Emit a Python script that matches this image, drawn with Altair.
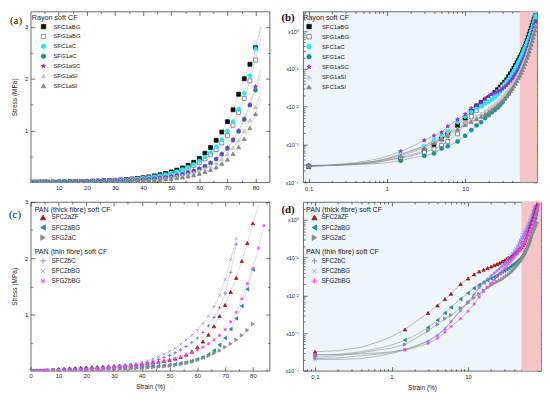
import altair as alt
import pandas as pd

# ---------------- data (strain %, stress MPa) ----------------
STRAIN = [0.1, 0.2, 0.4, 0.7, 1, 1.5, 2, 3, 4, 5, 6, 8,
          10, 12, 14, 16, 18, 20, 22, 24, 26, 28, 30, 32, 34, 36, 38, 40,
          42, 44, 46, 48, 50, 52, 54, 56, 58, 60, 62, 64, 66, 68, 70, 72,
          74, 76, 78, 80, 82, 84]

RAYON_NAMES = ["SFC1aBG", "SFG1aBG", "SFC1aC", "SFG1aC", "SFG1aSC", "SFG1aSI", "SFC1aSI"]
PAN_THICK = ["SFC2aZF", "SFC2aBG", "SFG2aC"]
PAN_THIN = ["SFC2bC", "SFC2bBG", "SFG2bBG"]

SFC1aBG = [0.00026, 0.00028, 0.00030, 0.00033, 0.00038, 0.00045, 0.00052, 0.00068, 0.0010, 0.0014, 0.0019, 0.0032,
           0.0050, 0.0075, 0.0105, 0.0128, 0.015, 0.017, 0.020, 0.024, 0.028, 0.033, 0.038, 0.044, 0.052, 0.062, 0.074, 0.088,
           0.104, 0.123, 0.145, 0.17, 0.20, 0.235, 0.275, 0.325, 0.385, 0.46, 0.56, 0.67, 0.81, 0.97, 1.17, 1.40,
           1.70, 2.00, 2.28, 2.60, 3.00, None]
SFG1aBG = [0.00027, 0.00028, 0.00030, 0.00033, 0.00038, 0.00044, 0.00049, 0.00062, 0.00075, 0.00095, 0.0012, 0.0019,
           0.0035, 0.0055, 0.0080, 0.0105, 0.013, 0.0155, 0.018, 0.021, 0.025, 0.029, 0.034, 0.039, 0.045, 0.052, 0.061, 0.072,
           0.085, 0.100, 0.118, 0.140, 0.165, 0.195, 0.230, 0.270, 0.320, 0.380, 0.450, 0.540, 0.630, 0.760, 0.900, 1.10,
           1.35, 1.62, 1.96, 2.36, 2.80, None]
SFC1aC = [0.00027, 0.00028, 0.00031, 0.00036, 0.00042, 0.00055, 0.00065, 0.00090, 0.0013, 0.0017, 0.0022, 0.0039,
          0.0055, 0.0073, 0.0090, 0.0105, 0.012, 0.0135, 0.0155, 0.018, 0.021, 0.025, 0.030, 0.036, 0.043, 0.051, 0.061, 0.073,
          0.087, 0.103, 0.122, 0.145, 0.172, 0.205, 0.245, 0.290, 0.345, 0.410, 0.490, 0.580, 0.690, 0.820, 0.990, 1.17,
          1.41, 1.72, 2.06, 2.58, 3.00, None]
SFG1aC = [0.00027, 0.00028, 0.00029, 0.00031, 0.00033, 0.00037, 0.00043, 0.00050, 0.00058, 0.00078, 0.00090, 0.0012,
          0.0017, 0.0024, 0.0032, 0.0039, 0.0050, 0.0060, 0.0071, 0.0082, 0.0095, 0.011, 0.013, 0.016, 0.019, 0.023, 0.028, 0.034,
          0.042, 0.052, 0.066, 0.082, 0.100, 0.120, 0.150, 0.180, 0.215, 0.260, 0.310, 0.370, 0.450, 0.540, 0.650, 0.810,
          0.98, 1.21, 1.49, 1.78, 2.10, None]
SFG1aSC = [0.00028, 0.00029, 0.00033, 0.00040, 0.00048, 0.00066, 0.00085, 0.00128, 0.0017, 0.0021, 0.0030, 0.0046,
           0.0063, 0.0090, 0.0110, 0.0130, 0.0165, 0.019, 0.021, 0.023, 0.025, 0.027, 0.030, 0.033, 0.037, 0.042, 0.048, 0.055,
           0.064, 0.074, 0.086, 0.100, 0.117, 0.137, 0.160, 0.190, 0.225, 0.265, 0.315, 0.375, 0.450, 0.550, 0.670, 0.830,
           1.00, 1.23, 1.50, 1.85, 2.20, None]
SFG1aSI = [0.00027, 0.00028, 0.00031, 0.00036, 0.00042, 0.00055, 0.00068, 0.00090, 0.0012, 0.0015, 0.0019, 0.0026,
           0.0035, 0.0045, 0.0055, 0.0065, 0.0076, 0.0088, 0.0102, 0.0118, 0.0136, 0.0157, 0.018, 0.021, 0.025, 0.029, 0.034, 0.039,
           0.046, 0.054, 0.063, 0.075, 0.089, 0.105, 0.125, 0.150, 0.180, 0.215, 0.260, 0.310, 0.370, 0.450, 0.550, 0.670,
           0.81, 0.99, 1.20, 1.45, 1.75, None]
SFC1aSI = [0.00027, 0.00028, 0.00031, 0.00035, 0.00040, 0.00050, 0.00060, 0.00082, 0.0011, 0.0014, 0.0017, 0.0025,
           0.0033, 0.0040, 0.0047, 0.0055, 0.0063, 0.0072, 0.0083, 0.0095, 0.011, 0.0125, 0.0145, 0.0165, 0.019, 0.022, 0.026, 0.030,
           0.035, 0.041, 0.048, 0.057, 0.067, 0.080, 0.095, 0.114, 0.137, 0.165, 0.200, 0.240, 0.290, 0.360, 0.440, 0.550,
           0.68, 0.84, 1.05, 1.32, 1.62, None]

SFC2aZF = [0.00032, 0.00034, 0.00042, 0.00060, 0.00080, 0.00125, 0.0019, 0.0034, 0.0054, 0.0080, 0.011, 0.020,
           0.028, 0.036, 0.043, 0.048, 0.053, 0.058, 0.063, 0.068, 0.073, 0.079, 0.085, 0.092, 0.099, 0.106, 0.114, 0.123,
           0.133, 0.145, 0.160, 0.175, 0.192, 0.215, 0.245, 0.285, 0.340, 0.420, 0.520, 0.640, 0.790, 0.970, 1.17, 1.40,
           1.65, 1.95, 2.27, 2.62, 2.95, None]
SFC2aBG = [0.00026, 0.00027, 0.00032, 0.00040, 0.00048, 0.00065, 0.00085, 0.0014, 0.0022, 0.0034, 0.0048, 0.0080,
           0.0115, 0.0155, 0.019, 0.022, 0.025, 0.028, 0.031, 0.034, 0.038, 0.042, 0.045, 0.049, 0.053, 0.058, 0.063, 0.068,
           0.073, 0.079, 0.086, 0.094, 0.103, 0.115, 0.130, 0.150, 0.175, 0.205, 0.240, 0.290, 0.360, 0.460, 0.580, 0.740,
           0.93, 1.15, 1.45, 1.80, None, None]
SFG2aC = [0.00023, 0.00025, 0.00030, 0.00036, 0.00040, 0.00050, 0.00070, 0.00115, 0.0017, 0.0024, 0.0030, 0.0046,
          0.0063, 0.0086, 0.011, 0.0135, 0.016, 0.0185, 0.021, 0.023, 0.025, 0.027, 0.030, 0.033, 0.036, 0.040, 0.044, 0.049,
          0.055, 0.062, 0.069, 0.078, 0.088, 0.100, 0.115, 0.135, 0.160, 0.190, 0.225, 0.265, 0.310, 0.360, 0.420, 0.480,
          0.55, 0.63, 0.72, 0.83, None, None]
SFC2bC = [0.00021, 0.00022, 0.00025, 0.00028, 0.00031, 0.00037, 0.00045, 0.00060, 0.00085, 0.00125, 0.0020, 0.0040,
          0.0068, 0.0105, 0.0165, 0.022, 0.027, 0.033, 0.039, 0.045, 0.051, 0.058, 0.066, 0.074, 0.083, 0.094, 0.108, 0.125,
          0.145, 0.170, 0.200, 0.235, 0.270, 0.320, 0.370, 0.430, 0.500, 0.580, 0.680, 0.800, 0.950, 1.12, 1.38, 1.75,
          2.25, None, None, None, None, None]
SFC2bBG = [0.00020, 0.00020, 0.00021, 0.00025, 0.00029, 0.00035, 0.00043, 0.00062, 0.00090, 0.00135, 0.0020, 0.0039,
           0.0065, 0.0105, 0.016, 0.021, 0.027, 0.033, 0.039, 0.046, 0.054, 0.063, 0.074, 0.086, 0.100, 0.115, 0.130, 0.150,
           0.175, 0.210, 0.250, 0.295, 0.345, 0.400, 0.470, 0.550, 0.630, 0.720, 0.840, 0.970, 1.14, 1.34, 1.62, 1.98,
           2.35, None, None, None, None, None]
SFG2bBG = [0.00027, 0.00027, 0.00028, 0.00030, 0.00032, 0.00036, 0.00041, 0.00053, 0.00073, 0.00105, 0.0015, 0.0024,
           0.0038, 0.0059, 0.0090, 0.0128, 0.0165, 0.021, 0.026, 0.031, 0.037, 0.044, 0.052, 0.060, 0.069, 0.079, 0.090, 0.102,
           0.115, 0.130, 0.147, 0.167, 0.190, 0.215, 0.245, 0.280, 0.320, 0.370, 0.420, 0.480, 0.550, 0.630, 0.730, 0.870,
           1.04, 1.28, 1.55, 1.82, 2.18, 2.58]

SERIES = {"SFC1aBG": SFC1aBG, "SFG1aBG": SFG1aBG, "SFC1aC": SFC1aC, "SFG1aC": SFG1aC,
          "SFG1aSC": SFG1aSC, "SFG1aSI": SFG1aSI, "SFC1aSI": SFC1aSI,
          "SFC2aZF": SFC2aZF, "SFC2aBG": SFC2aBG, "SFG2aC": SFG2aC,
          "SFC2bC": SFC2bC, "SFC2bBG": SFC2bBG, "SFG2bBG": SFG2bBG}

LAST_MARK = {"SFC1aBG": 80, "SFG1aBG": 80, "SFC1aC": 80, "SFG1aC": 80, "SFG1aSC": 80,
             "SFG1aSI": 80, "SFC1aSI": 80, "SFC2aZF": 80, "SFC2aBG": 80, "SFG2aC": 80,
             "SFC2bC": 74, "SFC2bBG": 74, "SFG2bBG": 84}
MARK_SKIP = [0.2, 0.4, 0.7, 1, 2]
BAND_START = 50

# ---------------- styles ----------------
FONT = "Liberation Sans"
SERIF = "Liberation Serif"
STAR = "M0,-1L0.2245,-0.309L0.951,-0.309L0.363,0.118L0.588,0.809L0,0.382L-0.588,0.809L-0.363,0.118L-0.951,-0.309L-0.2245,-0.309Z"
PLUS = "M-1,0L1,0M0,-1L0,1"
XMARK = "M-0.8,-0.8L0.8,0.8M-0.8,0.8L0.8,-0.8"
ASTER = "M-1,0L1,0M0,-1L0,1M-0.7,-0.7L0.7,0.7M-0.7,0.7L0.7,-0.7"

STYLE = {
    "SFC1aBG": ("square", "#111111", "#111111"),
    "SFG1aBG": ("square", "#ffffff", "#6f6f6f"),
    "SFC1aC": ("circle", "#1ee9f7", "#1ee9f7"),
    "SFG1aC": ("circle", "#1a8f8f", "#1a8f8f"),
    "SFG1aSC": (STAR, "#8a2be2", "#8a2be2"),
    "SFG1aSI": ("triangle-up", "#c6c6c6", "#c6c6c6"),
    "SFC1aSI": ("triangle-up", "#858585", "#858585"),
    "SFC2aZF": ("triangle-up", "#a31818", "#a31818"),
    "SFC2aBG": ("triangle-left", "#1c9090", "#1c9090"),
    "SFG2aC": ("triangle-right", "#8c8c8c", "#8c8c8c"),
    "SFC2bC": (PLUS, "#6a6af0", "#6a6af0"),
    "SFC2bBG": (XMARK, "#b27cff", "#b27cff"),
    "SFG2bBG": (ASTER, "#ff40ff", "#ff40ff"),
}


def make_df(names):
    out = []
    for n in names:
        for s, v in zip(STRAIN, SERIES[n]):
            if v is None:
                continue
            out.append({"series": n, "strain": s, "stress": v,
                        "mark": bool(s <= LAST_MARK[n] and s not in MARK_SKIP)})
    return pd.DataFrame(out)


def axis(orient, values, major=True, labels=False, title=None, label_expr=None,
         label_size=6, label_pad=2, title_pad=5):
    size = 4 if major else 2
    kw = dict(orient=orient, values=values, domain=False, grid=False, ticks=True,
              tickSize=size, offset=-size, tickColor="#333333", tickWidth=0.7,
              labels=labels, title=title)
    if labels:
        kw.update(labelFont=FONT, labelFontSize=label_size, labelColor="#222222",
                  labelPadding=label_pad, labelFlush=False, labelOverlap=False)
        if label_expr:
            kw["labelExpr"] = label_expr
    if title:
        kw.update(titleFont=FONT, titleFontSize=6.6, titleFontWeight="normal",
                  titleColor="#222222", titlePadding=title_pad)
    return alt.Axis(**kw)


def legend(title, x, y, sym_size, sym_off, lab_off, row_pad, title_pad, title_size, label_size):
    return alt.Legend(title=title, orient="none", legendX=x, legendY=y, padding=0,
                      titleFont=FONT, titleFontSize=title_size, titleFontWeight="normal",
                      titleColor="#222222", titlePadding=title_pad,
                      labelFont=FONT, labelFontSize=label_size, labelColor="#222222",
                      labelOffset=lab_off, symbolSize=sym_size, symbolOffset=sym_off,
                      symbolStrokeWidth=0.8, rowPadding=row_pad)


def panel(df, groups, W, H, xs, ys, axes, letter, bold, log, xmax, line_color, pt_size):
    layers = []
    if log:
        band = pd.DataFrame({"x0": [BAND_START], "x1": [xmax]})
        layers.append(alt.Chart(band).mark_rect(color="#f5c4c6").encode(
            x=alt.X("x0:Q", scale=xs, axis=None), x2="x1:Q",
            y=alt.value(0), y2=alt.value(H)))
    layers.append(alt.Chart(df).mark_line(color=line_color, strokeWidth=0.6, clip=True).encode(
        x=alt.X("strain:Q", scale=xs, axis=None),
        y=alt.Y("stress:Q", scale=ys, axis=None),
        detail="series:N", order="strain:Q"))
    for i, (names, leg) in enumerate(groups):
        d = df[df["series"].isin(names) & df["mark"]]
        layers.append(alt.Chart(d).mark_point(filled=True, size=pt_size, strokeWidth=0.8,
                                              opacity=1, clip=True).encode(
            x=alt.X("strain:Q", scale=xs, axis=axes["x"][0] if i == 0 else None),
            y=alt.Y("stress:Q", scale=ys, axis=axes["y"][0] if i == 0 else None),
            shape=alt.Shape("series:N", scale=alt.Scale(domain=names, range=[STYLE[n][0] for n in names]), legend=leg),
            fill=alt.Fill("series:N", scale=alt.Scale(domain=names, range=[STYLE[n][1] for n in names]), legend=leg),
            stroke=alt.Stroke("series:N", scale=alt.Scale(domain=names, range=[STYLE[n][2] for n in names]), legend=leg),
        ))
    one = df.head(1)
    for k in range(1, 4):
        layers.append(alt.Chart(one).mark_point(opacity=0, size=1).encode(
            x=alt.X("strain:Q", scale=xs, axis=axes["x"][k]),
            y=alt.Y("stress:Q", scale=ys, axis=axes["y"][k])))
    lx, ly = letter[1], letter[2]
    layers.append(alt.Chart(pd.DataFrame({"t": [letter[0]]})).mark_text(
        font=SERIF, fontSize=11, fontWeight="bold" if bold else "normal",
        align="left", baseline="middle", color="#111111").encode(
        text="t:N", x=alt.value(lx), y=alt.value(ly)))
    view = alt.ViewBackground(fill="#eef5fb" if log else "white", stroke="#444444", strokeWidth=0.8)
    return alt.layer(*layers).resolve_scale(
        shape="independent", fill="independent", stroke="independent"
    ).resolve_axis(x="independent", y="independent").properties(width=W, height=H, view=view)


LOG_Y_EXPR = ("datum.value > 0.5 ? 'x10\u2070' : datum.value > 0.05 ? 'x10\u207b\u00b9' : "
              "datum.value > 0.005 ? 'x10\u207b\u00b2' : datum.value > 0.0005 ? 'x10\u207b\u00b3' : 'x10\u207b\u2074'")
LOG_X_EXPR = "replace(format(datum.value, '~g'), '.', ',')"


def lin_axes(xmax, ymax, xlabels, xtitle, ytitle):
    xmin = [v for v in [5, 15, 25, 35, 45, 55, 65, 75, 85] if v < xmax]
    ymin = [v for v in [0.5, 1.5, 2.5, 3.5] if v < ymax]
    ymaj = [v for v in [1, 2, 3] if v <= ymax]
    return {
        "x": [axis("bottom", xlabels, True, True, xtitle, label_pad=2, title_pad=5),
              axis("bottom", xmin, False), axis("top", xlabels, True), axis("top", xmin, False)],
        "y": [axis("left", ymaj, True, True, ytitle, label_pad=3, title_pad=7),
              axis("left", ymin, False), axis("right", ymaj, True), axis("right", ymin, False)],
    }


def log_axes(xdom, ydom, xtitle):
    xmaj = [0.1, 1, 10]
    xmin = [round(m * 10 ** e, 6) for e in (-2, -1, 0, 1) for m in range(2, 10)]
    xmin = [v for v in xmin if xdom[0] < v < xdom[1] and v not in xmaj]
    ymaj = [0.0001, 0.001, 0.01, 0.1, 1]
    ymin = [round(m * 10 ** e, 8) for e in (-4, -3, -2, -1, 0) for m in range(2, 10)]
    ymin = [v for v in ymin if ydom[0] < v < ydom[1]]
    return {
        "x": [axis("bottom", xmaj, True, True, xtitle, LOG_X_EXPR, label_pad=3, title_pad=5),
              axis("bottom", xmin, False), axis("top", xmaj, True), axis("top", xmin, False)],
        "y": [axis("left", ymaj, True, True, None, LOG_Y_EXPR, label_size=5.5, label_pad=5),
              axis("left", ymin, False), axis("right", ymaj, True), axis("right", ymin, False)],
    }


df_r = make_df(RAYON_NAMES)
df_p = make_df(PAN_THICK + PAN_THIN)

# (a)
leg_a = legend("Rayon soft CF", 1, 3, 20, 9, 7, 2, 2, 7.3, 6)
pa = panel(df_r, [(RAYON_NAMES, leg_a)], 242, 173,
           alt.Scale(domain=[0, 85], nice=False, zero=False),
           alt.Scale(domain=[0, 3.3], nice=False, zero=False),
           lin_axes(85, 3.3, [10, 20, 30, 40, 50, 60, 70, 80], None, "Stress (MPa)"),
           ("(a)", -21, 10), False, False, 85, "#c8c8c8", 16)

# (b)
leg_b = legend("Rayon soft CF", 0, 3, 20, 3, 10, 2.2, 2, 7.3, 6)
pb = panel(df_r, [(RAYON_NAMES, leg_b)], 237, 173,
           alt.Scale(type="log", domain=[0.085, 83], nice=False),
           alt.Scale(type="log", domain=[0.0001, 3.3], nice=False),
           log_axes([0.085, 83], [0.0001, 3.3], None),
           ("(b)", -22, 7), True, True, 83, "#8f8f8f", 16)

# (c)
leg_c1 = legend("PAN (thick fibre) soft CF", 4, 4, 30, 5, 5, 1.2, 1, 7.2, 6.4)
leg_c2 = legend("PAN (thin fibre) soft CF", 4, 47, 30, 5, 5, 1.2, 2, 7.2, 6.4)
pc = panel(df_p, [(PAN_THICK, leg_c1), (PAN_THIN, leg_c2)], 242, 171,
           alt.Scale(domain=[0, 86], nice=False, zero=False),
           alt.Scale(domain=[0, 3.0], nice=False, zero=False),
           lin_axes(86, 3.0, [0, 10, 20, 30, 40, 50, 60, 70, 80], "Strain (%)", "Stress (MPa)"),
           ("(c)", -22, 13), False, False, 86, "#c8c8c8", 12)

# (d)
leg_d1 = legend("PAN (thick fibre) soft CF", 3, 4, 30, 5, 3.5, 1.2, 1, 7.2, 6.4)
leg_d2 = legend("PAN (thin fibre) soft CF", 3, 47, 30, 5, 3.5, 1.2, 2, 7.2, 6.4)
pd_ = panel(df_p, [(PAN_THICK, leg_d1), (PAN_THIN, leg_d2)], 241, 171,
            alt.Scale(type="log", domain=[0.07, 90], nice=False),
            alt.Scale(type="log", domain=[0.0001, 3.0], nice=False),
            log_axes([0.07, 90], [0.0001, 3.0], "Strain (%)"),
            ("(d)", -22, 8), True, True, 90, "#8f8f8f", 12)

chart = alt.concat(pa, pb, pc, pd_, columns=2, spacing={"row": 20, "column": 34},
                   bounds="flush").properties(
    padding=0, background="white"
).configure_view(stroke="#444444", strokeWidth=0.8).configure(font=FONT)

chart.save("out.html", embed_options={"renderer": "svg", "actions": False})
